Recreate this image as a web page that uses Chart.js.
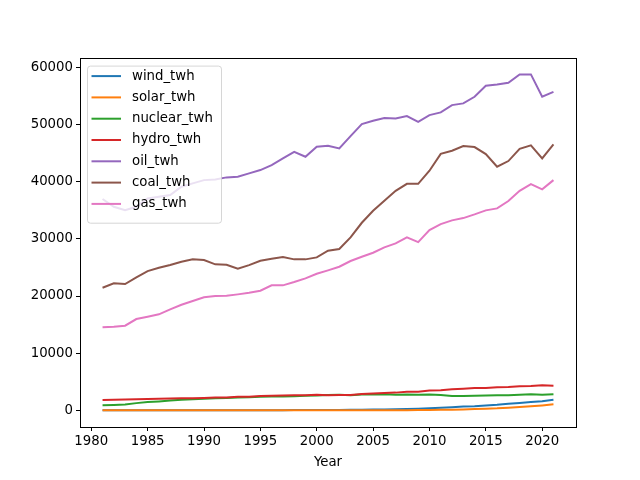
<!DOCTYPE html>
<html>
<head>
<meta charset="utf-8">
<script src="https://cdn.jsdelivr.net/npm/chart.js@4"></script>
<style>
  html, body { margin: 0; padding: 0; background: #fff; }
  #wrap { width: 640px; height: 480px; }
</style>
</head>
<body>
<div id="wrap"><canvas id="chart" width="640" height="480"></canvas></div>
<script>
// values (TWh)
const years = [];
for (let y = 1981; y <= 2021; y++) years.push(y);

const windTwh = [0, 0, 0, 0, 0, 0, 0, 0, 0, 4, 4, 5, 6, 7, 8, 10, 12, 16, 21, 31, 38, 52, 63, 85, 104, 133, 170, 220, 276, 342, 437, 524, 637, 712, 831, 962, 1140, 1270, 1420, 1590, 1850];
const solarTwh = [0, 0, 0, 0, 0, 0, 0, 0, 0, 0, 0, 0, 0, 0, 0, 0, 0, 0, 1, 1, 1, 2, 3, 3, 4, 6, 8, 12, 20, 32, 63, 97, 134, 190, 256, 328, 445, 571, 700, 845, 1030];
const nuclearTwh = [850, 910, 1010, 1240, 1440, 1540, 1680, 1840, 1910, 2000, 2100, 2120, 2210, 2280, 2340, 2420, 2410, 2460, 2540, 2590, 2650, 2700, 2640, 2760, 2770, 2800, 2720, 2740, 2700, 2760, 2650, 2470, 2490, 2540, 2570, 2610, 2640, 2700, 2790, 2690, 2800];
const hydroTwh = [1770, 1820, 1880, 1940, 1980, 2010, 2030, 2090, 2100, 2160, 2220, 2230, 2340, 2360, 2490, 2540, 2580, 2600, 2620, 2690, 2620, 2680, 2680, 2830, 2920, 3030, 3080, 3240, 3250, 3440, 3500, 3660, 3780, 3900, 3880, 4020, 4070, 4180, 4230, 4350, 4270];
const oilTwh = [37000, 35630, 35050, 35630, 37100, 37380, 37680, 39140, 39730, 40300, 40430, 40780, 40890, 41480, 42060, 42940, 44100, 45260, 44390, 46140, 46320, 45850, 48010, 50110, 50690, 51160, 51100, 51510, 50520, 51690, 52160, 53440, 53740, 54900, 56820, 57060, 57350, 58820, 58820, 54900, 55770];
const coalTwh = [21450, 22220, 22100, 23270, 24370, 24950, 25420, 26000, 26420, 26300, 25550, 25480, 24780, 25420, 26180, 26530, 26830, 26420, 26420, 26770, 27950, 28230, 30270, 32830, 34930, 36680, 38430, 39660, 39660, 41940, 44900, 45440, 46260, 46090, 44860, 42640, 43640, 45790, 46380, 44100, 46560];
const gasTwh = [14520, 14620, 14800, 15970, 16380, 16790, 17670, 18470, 19120, 19770, 20000, 20050, 20290, 20570, 20930, 21870, 21870, 22450, 23100, 23900, 24500, 25130, 26130, 26880, 27580, 28520, 29220, 30270, 29450, 31550, 32600, 33250, 33650, 34300, 35000, 35350, 36630, 38430, 39610, 38680, 40300];

const seriesNames = ['wind_twh', 'solar_twh', 'nuclear_twh', 'hydro_twh', 'oil_twh', 'coal_twh', 'gas_twh'];
const seriesValues = [windTwh, solarTwh, nuclearTwh, hydroTwh, oilTwh, coalTwh, gasTwh];
const xTicks = [1980, 1985, 1990, 1995, 2000, 2005, 2010, 2015, 2020];
const yTicks = [0, 10000, 20000, 30000, 40000, 50000, 60000];

const colors = ['#1f77b4', '#ff7f0e', '#2ca02c', '#d62728', '#9467bd', '#8c564b', '#e377c2'];
const FONT = "'DejaVu Sans', sans-serif";

// matplotlib style auto limits (5% margins)
const allVals = seriesValues.flat();
const yMinData = Math.min(...allVals), yMaxData = Math.max(...allVals);
const yPad = (yMaxData - yMinData) * 0.05;
const xPad = (years[years.length - 1] - years[0]) * 0.05;

/** axes frame + legend inside the plot, upper left */
const mplLook = {
    id: 'mplLook',
    afterDraw(chart) {
        const { ctx, chartArea: a } = chart;
        ctx.save();
        ctx.strokeStyle = '#000';
        ctx.lineWidth = 1;
        ctx.strokeRect(Math.round(a.left) + 0.5, Math.round(a.top) + 0.5,
            Math.round(a.right - a.left), Math.round(a.bottom - a.top));

        // legend
        const x0 = a.left + 7, y0 = a.top + 8;
        const rowH = 21.3, w = 134, h = seriesNames.length * rowH + 8;
        ctx.fillStyle = 'rgba(255,255,255,0.8)';
        ctx.strokeStyle = 'rgba(204,204,204,0.8)';
        ctx.beginPath();
        ctx.roundRect(x0 + 0.5, y0 + 0.5, w, h, 3);
        ctx.fill();
        ctx.stroke();
        ctx.font = '13.3px ' + FONT;
        ctx.textBaseline = 'middle';
        seriesNames.forEach((name, i) => {
            const cy = y0 + 10.5 + i * rowH;
            ctx.strokeStyle = colors[i];
            ctx.lineWidth = 2;
            ctx.beginPath();
            ctx.moveTo(x0 + 4.5, cy);
            ctx.lineTo(x0 + 34, cy);
            ctx.stroke();
            ctx.fillStyle = '#000';
            ctx.fillText(name, x0 + 45, cy);
        });
        ctx.restore();
    }
};

new Chart(document.getElementById('chart'), {
    type: 'line',
    data: {
        datasets: seriesNames.map((name, i) => ({
            label: name,
            data: years.map((yr, k) => ({ x: yr, y: seriesValues[i][k] })),
            borderColor: colors[i],
            backgroundColor: colors[i],
            borderWidth: 2,
            pointRadius: 0,
            tension: 0,
            order: seriesNames.length - i,
        }))
    },
    options: {
        responsive: false,
        animation: false,
        layout: { padding: { top: 57.6, right: 64, left: 0, bottom: 0 } },
        plugins: {
            legend: { display: false },
            tooltip: { enabled: false },
        },
        scales: {
            x: {
                type: 'linear',
                min: years[0] - xPad,
                max: years[years.length - 1] + xPad,
                afterBuildTicks(scale) { scale.ticks = xTicks.map(v => ({ value: v })); },
                afterFit(scale) { scale.height = 53; },
                grid: { drawOnChartArea: false, tickLength: 4, color: '#000', tickColor: '#000' },
                border: { display: false },
                ticks: {
                    color: '#000', padding: 3, maxRotation: 0, autoSkip: false,
                    font: { family: FONT, size: 13.3 },
                    callback: v => String(v),
                },
                title: {
                    display: true, text: 'Year', color: '#000',
                    font: { family: FONT, size: 13.3 },
                    padding: { top: 2, bottom: 9 },
                },
            },
            y: {
                type: 'linear',
                min: yMinData - yPad,
                max: yMaxData + yPad,
                afterBuildTicks(scale) { scale.ticks = yTicks.map(v => ({ value: v })); },
                afterFit(scale) { scale.width = 80; },
                grid: { drawOnChartArea: false, tickLength: 4, color: '#000', tickColor: '#000' },
                border: { display: false },
                ticks: {
                    color: '#000', padding: 3, autoSkip: false,
                    font: { family: FONT, size: 13.3 },
                    callback: v => String(v),
                },
            },
        },
    },
    plugins: [mplLook],
});
</script>
</body>
</html>
